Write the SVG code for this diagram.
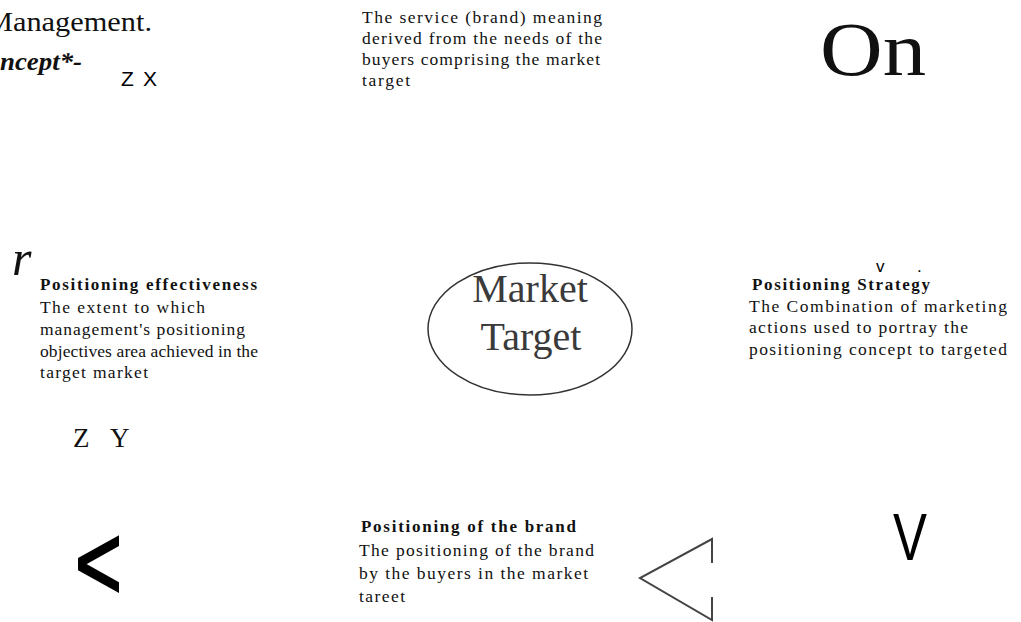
<svg xmlns="http://www.w3.org/2000/svg" width="1021" height="622" viewBox="0 0 1021 622">
<style>
.s{font-family:"Liberation Serif","Times New Roman",serif;fill:#111;}
.b{font-family:"Liberation Serif","Times New Roman",serif;font-weight:bold;fill:#111;font-size:17px;}
.t{font-family:"Liberation Serif","Times New Roman",serif;fill:#111;font-size:17.5px;}
.a{font-family:"Liberation Sans",Arial,sans-serif;fill:#000;}
.line{fill:none;stroke:#444;stroke-width:2;}
</style>
<rect width="1021" height="622" fill="#fff"/>
<g id="header">
<text class="s" x="-14" y="31" font-size="28" textLength="166" lengthAdjust="spacingAndGlyphs">Management.</text>
<text class="s" x="0" y="70" font-size="25" font-weight="bold" font-style="italic" textLength="82" lengthAdjust="spacingAndGlyphs">ncept*-</text>
</g>
<g id="node-concept">
<text class="t" x="362" y="23" textLength="240" lengthAdjust="spacing">The service (brand) meaning</text>
<text class="t" x="362" y="44" textLength="240" lengthAdjust="spacing">derived from the needs of the</text>
<text class="t" x="362" y="65" textLength="238" lengthAdjust="spacing">buyers comprising the market</text>
<text class="t" x="362" y="86" textLength="48" lengthAdjust="spacing">target</text>
</g>
<g id="node-on">
<text class="s" x="820" y="75" font-size="76" textLength="106" lengthAdjust="spacingAndGlyphs">On</text>
</g>
<g id="node-market-target">
<ellipse cx="530" cy="329" rx="102" ry="66" fill="#fff" stroke="#333" stroke-width="1.5"/>
<text class="s" x="530" y="302" font-size="40" text-anchor="middle" style="fill:#3a3a3a">Market</text>
<text class="s" x="531" y="350" font-size="40" text-anchor="middle" style="fill:#3a3a3a">Target</text>
</g>
<g id="node-effectiveness">
<text class="s" x="12" y="275" font-size="50" font-style="italic">r</text>
<text class="b" x="40" y="290" textLength="217" lengthAdjust="spacing">Positioning effectiveness</text>
<text class="t" x="40" y="313" textLength="165" lengthAdjust="spacing">The extent to which</text>
<text class="t" x="40" y="335" textLength="205" lengthAdjust="spacing">management's positioning</text>
<text class="t" x="40" y="357" textLength="218" lengthAdjust="spacing">objectives area achieved in the</text>
<text class="t" x="40" y="378" textLength="108" lengthAdjust="spacing">target market</text>
</g>
<g id="node-strategy">
<text class="b" x="752" y="290" textLength="178" lengthAdjust="spacing">Positioning Strategy</text>
<text class="t" x="749" y="312" textLength="258" lengthAdjust="spacing">The Combination of marketing</text>
<text class="t" x="749" y="333" textLength="219" lengthAdjust="spacing">actions used to portray the</text>
<text class="t" x="749" y="355" textLength="258" lengthAdjust="spacing">positioning concept to targeted</text>
</g>
<g id="node-brand">
<text class="b" x="361" y="532" textLength="215" lengthAdjust="spacing">Positioning of the brand</text>
<text class="t" x="359" y="556" textLength="235" lengthAdjust="spacing">The positioning of the brand</text>
<text class="t" x="359" y="579" textLength="229" lengthAdjust="spacing">by the buyers in the market</text>
<text class="t" x="359" y="602" textLength="46" lengthAdjust="spacing">tareet</text>
</g>
<g id="connectors">
<text class="a" x="121" y="86" font-size="21">Z</text>
<text class="a" x="143" y="86" font-size="21">X</text>
<text class="a" x="876" y="272" font-size="17">v</text>
<text class="a" x="917" y="272" font-size="17">.</text>
<text class="s" x="73" y="447" font-size="27">Z</text>
<text class="s" x="110" y="447" font-size="27">Y</text>
<text class="a" x="75" y="599" font-size="106" stroke="#000" stroke-width="2.5" textLength="47" lengthAdjust="spacingAndGlyphs">&lt;</text>
<text class="a" x="893" y="560" font-size="67" textLength="34" lengthAdjust="spacingAndGlyphs">V</text>
<polyline class="line" points="712,563 712,539 640,578 712,620 712,597"/>
</g>
</svg>
